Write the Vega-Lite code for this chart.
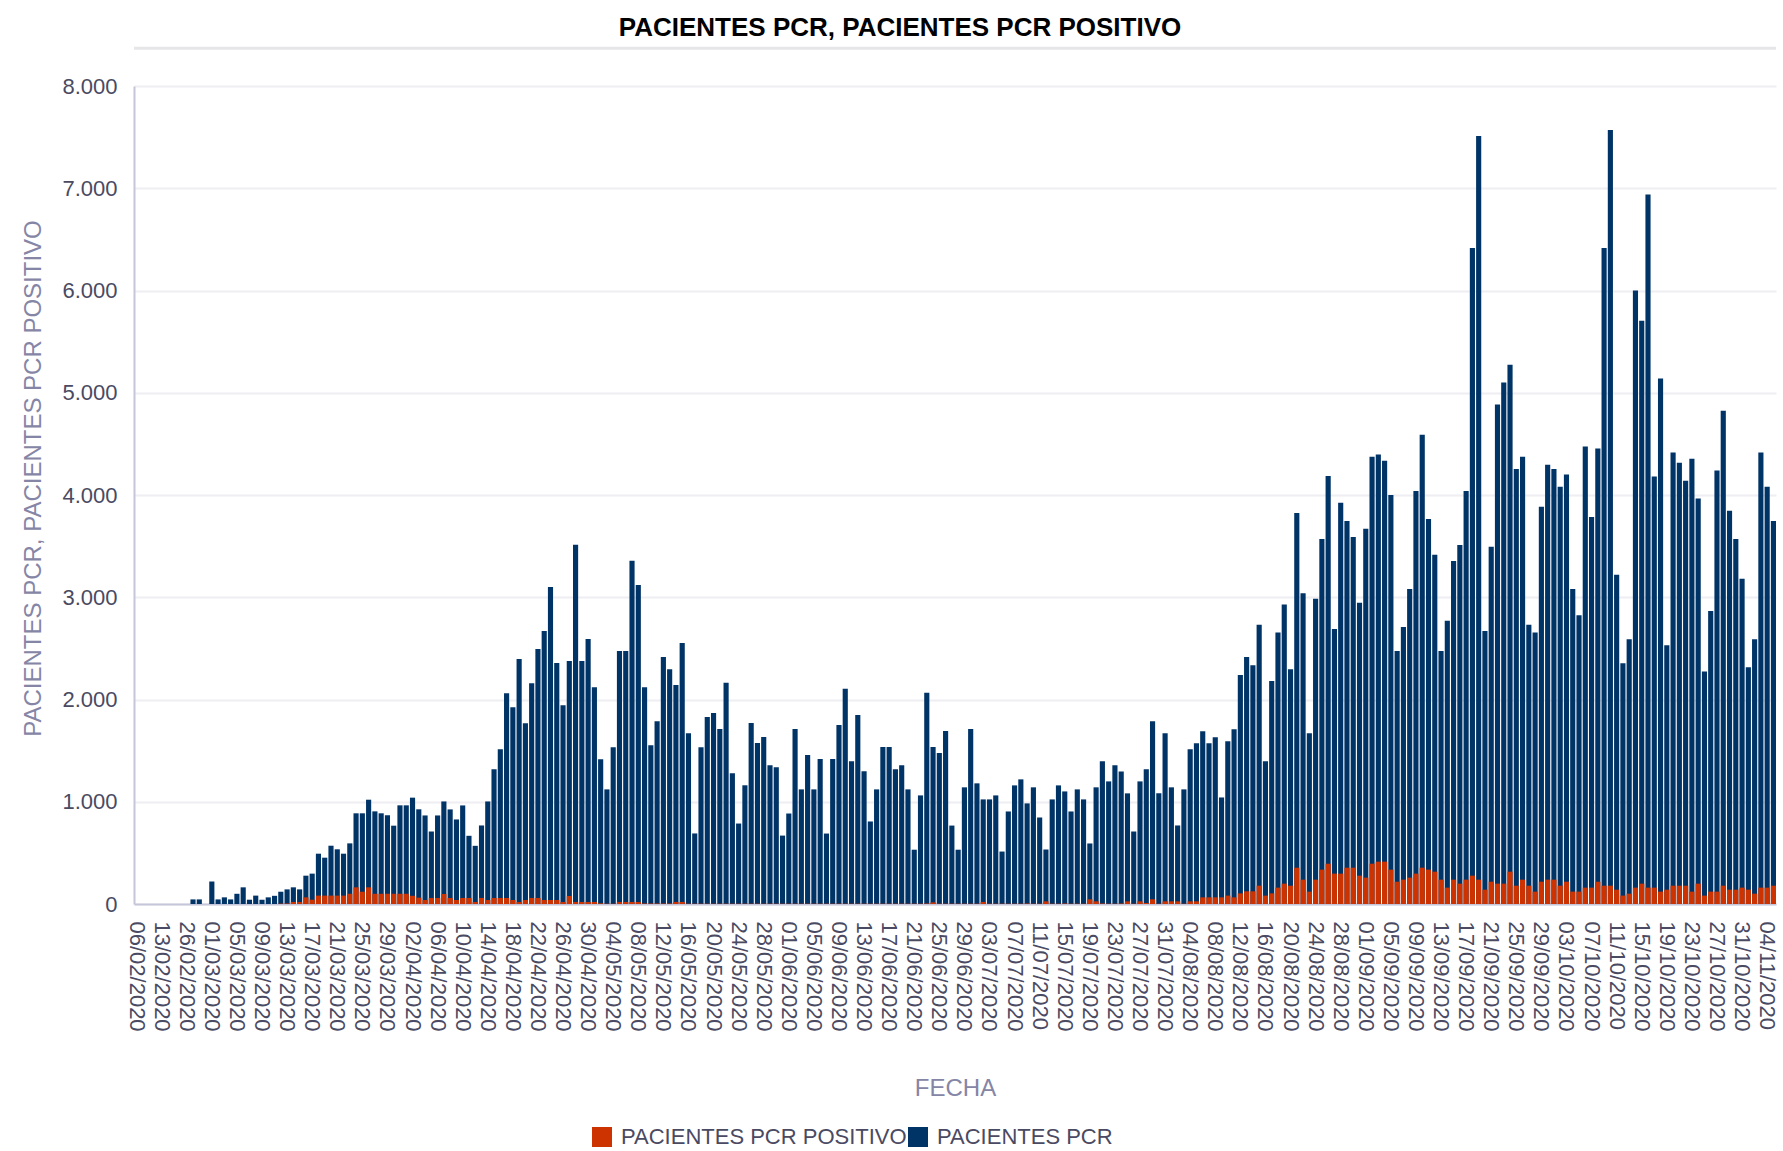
{
  "$schema": "https://vega.github.io/schema/vega-lite/v6.json",
  "width": 1642,
  "height": 818,
  "autosize": {"type": "none"},
  "padding": {"left": 134, "top": 86, "right": 7, "bottom": 247},
  "background": "white",
  "title": {
    "text": "PACIENTES PCR, PACIENTES PCR POSITIVO",
    "font": "Liberation Sans",
    "fontSize": 26,
    "fontWeight": "bold",
    "color": "#000000",
    "anchor": "middle",
    "baseline": "alphabetic",
    "offset": 12,
    "dy": 27,
    "dx": -55
  },
  "data": {
    "values": [
      {"fecha": "06/02/2020", "pcr": 0, "positivo": 0},
      {"fecha": "07/02/2020", "pcr": 0, "positivo": 0},
      {"fecha": "10/02/2020", "pcr": 0, "positivo": 0},
      {"fecha": "11/02/2020", "pcr": 0, "positivo": 0},
      {"fecha": "13/02/2020", "pcr": 0, "positivo": 0},
      {"fecha": "14/02/2020", "pcr": 0, "positivo": 0},
      {"fecha": "18/02/2020", "pcr": 0, "positivo": 0},
      {"fecha": "24/02/2020", "pcr": 0, "positivo": 0},
      {"fecha": "26/02/2020", "pcr": 0, "positivo": 0},
      {"fecha": "27/02/2020", "pcr": 45, "positivo": 0},
      {"fecha": "28/02/2020", "pcr": 45, "positivo": 0},
      {"fecha": "29/02/2020", "pcr": 0, "positivo": 0},
      {"fecha": "01/03/2020", "pcr": 220, "positivo": 0},
      {"fecha": "02/03/2020", "pcr": 45, "positivo": 0},
      {"fecha": "03/03/2020", "pcr": 65, "positivo": 0},
      {"fecha": "04/03/2020", "pcr": 45, "positivo": 0},
      {"fecha": "05/03/2020", "pcr": 100, "positivo": 0},
      {"fecha": "06/03/2020", "pcr": 163, "positivo": 0},
      {"fecha": "07/03/2020", "pcr": 42, "positivo": 0},
      {"fecha": "08/03/2020", "pcr": 82, "positivo": 0},
      {"fecha": "09/03/2020", "pcr": 42, "positivo": 0},
      {"fecha": "10/03/2020", "pcr": 65, "positivo": 0},
      {"fecha": "11/03/2020", "pcr": 80, "positivo": 0},
      {"fecha": "12/03/2020", "pcr": 120, "positivo": 4},
      {"fecha": "13/03/2020", "pcr": 143, "positivo": 5},
      {"fecha": "14/03/2020", "pcr": 163, "positivo": 20},
      {"fecha": "15/03/2020", "pcr": 143, "positivo": 20},
      {"fecha": "16/03/2020", "pcr": 277, "positivo": 65},
      {"fecha": "17/03/2020", "pcr": 297, "positivo": 42},
      {"fecha": "18/03/2020", "pcr": 492, "positivo": 82},
      {"fecha": "19/03/2020", "pcr": 453, "positivo": 82},
      {"fecha": "20/03/2020", "pcr": 570, "positivo": 82},
      {"fecha": "21/03/2020", "pcr": 535, "positivo": 82},
      {"fecha": "22/03/2020", "pcr": 492, "positivo": 82},
      {"fecha": "23/03/2020", "pcr": 593, "positivo": 100},
      {"fecha": "24/03/2020", "pcr": 887, "positivo": 163},
      {"fecha": "25/03/2020", "pcr": 887, "positivo": 120},
      {"fecha": "26/03/2020", "pcr": 1020, "positivo": 163},
      {"fecha": "27/03/2020", "pcr": 906, "positivo": 100},
      {"fecha": "28/03/2020", "pcr": 887, "positivo": 100},
      {"fecha": "29/03/2020", "pcr": 867, "positivo": 100},
      {"fecha": "30/03/2020", "pcr": 766, "positivo": 100},
      {"fecha": "31/03/2020", "pcr": 965, "positivo": 100},
      {"fecha": "01/04/2020", "pcr": 965, "positivo": 100},
      {"fecha": "02/04/2020", "pcr": 1040, "positivo": 80},
      {"fecha": "03/04/2020", "pcr": 926, "positivo": 62},
      {"fecha": "04/04/2020", "pcr": 866, "positivo": 39},
      {"fecha": "05/04/2020", "pcr": 709, "positivo": 59},
      {"fecha": "06/04/2020", "pcr": 866, "positivo": 59},
      {"fecha": "07/04/2020", "pcr": 1003, "positivo": 98},
      {"fecha": "08/04/2020", "pcr": 925, "positivo": 59},
      {"fecha": "09/04/2020", "pcr": 827, "positivo": 39},
      {"fecha": "10/04/2020", "pcr": 964, "positivo": 59},
      {"fecha": "11/04/2020", "pcr": 667, "positivo": 59},
      {"fecha": "12/04/2020", "pcr": 569, "positivo": 20},
      {"fecha": "13/04/2020", "pcr": 768, "positivo": 59},
      {"fecha": "14/04/2020", "pcr": 1003, "positivo": 39},
      {"fecha": "15/04/2020", "pcr": 1317, "positivo": 59},
      {"fecha": "16/04/2020", "pcr": 1513, "positivo": 59},
      {"fecha": "17/04/2020", "pcr": 2062, "positivo": 59},
      {"fecha": "18/04/2020", "pcr": 1925, "positivo": 39},
      {"fecha": "19/04/2020", "pcr": 2395, "positivo": 20},
      {"fecha": "20/04/2020", "pcr": 1768, "positivo": 39},
      {"fecha": "21/04/2020", "pcr": 2160, "positivo": 59},
      {"fecha": "22/04/2020", "pcr": 2493, "positivo": 59},
      {"fecha": "23/04/2020", "pcr": 2670, "positivo": 39},
      {"fecha": "24/04/2020", "pcr": 3101, "positivo": 39},
      {"fecha": "25/04/2020", "pcr": 2356, "positivo": 39},
      {"fecha": "26/04/2020", "pcr": 1944, "positivo": 20},
      {"fecha": "27/04/2020", "pcr": 2376, "positivo": 78},
      {"fecha": "28/04/2020", "pcr": 3513, "positivo": 20},
      {"fecha": "29/04/2020", "pcr": 2376, "positivo": 20},
      {"fecha": "30/04/2020", "pcr": 2592, "positivo": 20},
      {"fecha": "01/05/2020", "pcr": 2121, "positivo": 20},
      {"fecha": "02/05/2020", "pcr": 1415, "positivo": 7},
      {"fecha": "03/05/2020", "pcr": 1121, "positivo": 3},
      {"fecha": "04/05/2020", "pcr": 1533, "positivo": 3},
      {"fecha": "05/05/2020", "pcr": 2474, "positivo": 20},
      {"fecha": "06/05/2020", "pcr": 2474, "positivo": 20},
      {"fecha": "07/05/2020", "pcr": 3356, "positivo": 20},
      {"fecha": "08/05/2020", "pcr": 3121, "positivo": 20},
      {"fecha": "09/05/2020", "pcr": 2121, "positivo": 5},
      {"fecha": "10/05/2020", "pcr": 1552, "positivo": 5},
      {"fecha": "11/05/2020", "pcr": 1788, "positivo": 5},
      {"fecha": "12/05/2020", "pcr": 2415, "positivo": 5},
      {"fecha": "13/05/2020", "pcr": 2297, "positivo": 5},
      {"fecha": "14/05/2020", "pcr": 2141, "positivo": 20},
      {"fecha": "15/05/2020", "pcr": 2552, "positivo": 20},
      {"fecha": "16/05/2020", "pcr": 1670, "positivo": 3},
      {"fecha": "17/05/2020", "pcr": 690, "positivo": 3},
      {"fecha": "18/05/2020", "pcr": 1533, "positivo": 3},
      {"fecha": "19/05/2020", "pcr": 1830, "positivo": 3},
      {"fecha": "20/05/2020", "pcr": 1869, "positivo": 3},
      {"fecha": "21/05/2020", "pcr": 1712, "positivo": 3},
      {"fecha": "22/05/2020", "pcr": 2164, "positivo": 3},
      {"fecha": "23/05/2020", "pcr": 1279, "positivo": 3},
      {"fecha": "24/05/2020", "pcr": 787, "positivo": 3},
      {"fecha": "25/05/2020", "pcr": 1161, "positivo": 3},
      {"fecha": "26/05/2020", "pcr": 1771, "positivo": 3},
      {"fecha": "27/05/2020", "pcr": 1574, "positivo": 3},
      {"fecha": "28/05/2020", "pcr": 1633, "positivo": 3},
      {"fecha": "29/05/2020", "pcr": 1358, "positivo": 3},
      {"fecha": "30/05/2020", "pcr": 1338, "positivo": 3},
      {"fecha": "31/05/2020", "pcr": 669, "positivo": 3},
      {"fecha": "01/06/2020", "pcr": 885, "positivo": 3},
      {"fecha": "02/06/2020", "pcr": 1712, "positivo": 3},
      {"fecha": "03/06/2020", "pcr": 1121, "positivo": 3},
      {"fecha": "04/06/2020", "pcr": 1456, "positivo": 3},
      {"fecha": "05/06/2020", "pcr": 1121, "positivo": 3},
      {"fecha": "06/06/2020", "pcr": 1417, "positivo": 3},
      {"fecha": "07/06/2020", "pcr": 689, "positivo": 3},
      {"fecha": "08/06/2020", "pcr": 1417, "positivo": 3},
      {"fecha": "09/06/2020", "pcr": 1751, "positivo": 3},
      {"fecha": "10/06/2020", "pcr": 2105, "positivo": 3},
      {"fecha": "11/06/2020", "pcr": 1397, "positivo": 3},
      {"fecha": "12/06/2020", "pcr": 1849, "positivo": 3},
      {"fecha": "13/06/2020", "pcr": 1298, "positivo": 3},
      {"fecha": "14/06/2020", "pcr": 807, "positivo": 3},
      {"fecha": "15/06/2020", "pcr": 1121, "positivo": 3},
      {"fecha": "16/06/2020", "pcr": 1535, "positivo": 3},
      {"fecha": "17/06/2020", "pcr": 1535, "positivo": 3},
      {"fecha": "18/06/2020", "pcr": 1318, "positivo": 3},
      {"fecha": "19/06/2020", "pcr": 1358, "positivo": 3},
      {"fecha": "20/06/2020", "pcr": 1121, "positivo": 3},
      {"fecha": "21/06/2020", "pcr": 531, "positivo": 3},
      {"fecha": "22/06/2020", "pcr": 1062, "positivo": 3},
      {"fecha": "23/06/2020", "pcr": 2066, "positivo": 5},
      {"fecha": "24/06/2020", "pcr": 1535, "positivo": 16},
      {"fecha": "25/06/2020", "pcr": 1476, "positivo": 3},
      {"fecha": "26/06/2020", "pcr": 1692, "positivo": 3},
      {"fecha": "27/06/2020", "pcr": 767, "positivo": 3},
      {"fecha": "28/06/2020", "pcr": 531, "positivo": 3},
      {"fecha": "29/06/2020", "pcr": 1141, "positivo": 3},
      {"fecha": "30/06/2020", "pcr": 1712, "positivo": 3},
      {"fecha": "01/07/2020", "pcr": 1180, "positivo": 3},
      {"fecha": "02/07/2020", "pcr": 1023, "positivo": 20},
      {"fecha": "03/07/2020", "pcr": 1023, "positivo": 3},
      {"fecha": "04/07/2020", "pcr": 1062, "positivo": 3},
      {"fecha": "05/07/2020", "pcr": 513, "positivo": 3},
      {"fecha": "06/07/2020", "pcr": 905, "positivo": 3},
      {"fecha": "07/07/2020", "pcr": 1160, "positivo": 3},
      {"fecha": "08/07/2020", "pcr": 1219, "positivo": 3},
      {"fecha": "09/07/2020", "pcr": 984, "positivo": 5},
      {"fecha": "10/07/2020", "pcr": 1141, "positivo": 3},
      {"fecha": "11/07/2020", "pcr": 846, "positivo": 3},
      {"fecha": "12/07/2020", "pcr": 533, "positivo": 26},
      {"fecha": "13/07/2020", "pcr": 1023, "positivo": 3},
      {"fecha": "14/07/2020", "pcr": 1160, "positivo": 3},
      {"fecha": "15/07/2020", "pcr": 1101, "positivo": 5},
      {"fecha": "16/07/2020", "pcr": 905, "positivo": 3},
      {"fecha": "17/07/2020", "pcr": 1121, "positivo": 3},
      {"fecha": "18/07/2020", "pcr": 1023, "positivo": 3},
      {"fecha": "19/07/2020", "pcr": 592, "positivo": 46},
      {"fecha": "20/07/2020", "pcr": 1141, "positivo": 26},
      {"fecha": "21/07/2020", "pcr": 1395, "positivo": 5},
      {"fecha": "22/07/2020", "pcr": 1199, "positivo": 3},
      {"fecha": "23/07/2020", "pcr": 1356, "positivo": 3},
      {"fecha": "24/07/2020", "pcr": 1297, "positivo": 5},
      {"fecha": "25/07/2020", "pcr": 1082, "positivo": 26},
      {"fecha": "26/07/2020", "pcr": 709, "positivo": 3},
      {"fecha": "27/07/2020", "pcr": 1199, "positivo": 26},
      {"fecha": "28/07/2020", "pcr": 1317, "positivo": 10},
      {"fecha": "29/07/2020", "pcr": 1788, "positivo": 46},
      {"fecha": "30/07/2020", "pcr": 1082, "positivo": 3},
      {"fecha": "31/07/2020", "pcr": 1670, "positivo": 26},
      {"fecha": "01/08/2020", "pcr": 1141, "positivo": 26},
      {"fecha": "02/08/2020", "pcr": 768, "positivo": 26},
      {"fecha": "03/08/2020", "pcr": 1121, "positivo": 3},
      {"fecha": "04/08/2020", "pcr": 1513, "positivo": 26},
      {"fecha": "05/08/2020", "pcr": 1572, "positivo": 26},
      {"fecha": "06/08/2020", "pcr": 1690, "positivo": 65},
      {"fecha": "07/08/2020", "pcr": 1572, "positivo": 65},
      {"fecha": "08/08/2020", "pcr": 1631, "positivo": 65},
      {"fecha": "09/08/2020", "pcr": 1042, "positivo": 65},
      {"fecha": "10/08/2020", "pcr": 1592, "positivo": 82},
      {"fecha": "11/08/2020", "pcr": 1709, "positivo": 65},
      {"fecha": "12/08/2020", "pcr": 2239, "positivo": 104},
      {"fecha": "13/08/2020", "pcr": 2415, "positivo": 124},
      {"fecha": "14/08/2020", "pcr": 2336, "positivo": 124},
      {"fecha": "15/08/2020", "pcr": 2730, "positivo": 179},
      {"fecha": "16/08/2020", "pcr": 1395, "positivo": 82},
      {"fecha": "17/08/2020", "pcr": 2180, "positivo": 104},
      {"fecha": "18/08/2020", "pcr": 2655, "positivo": 160},
      {"fecha": "19/08/2020", "pcr": 2930, "positivo": 199},
      {"fecha": "20/08/2020", "pcr": 2295, "positivo": 179},
      {"fecha": "21/08/2020", "pcr": 3825, "positivo": 355},
      {"fecha": "22/08/2020", "pcr": 3040, "positivo": 238},
      {"fecha": "23/08/2020", "pcr": 1670, "positivo": 121},
      {"fecha": "24/08/2020", "pcr": 2985, "positivo": 238},
      {"fecha": "25/08/2020", "pcr": 3570, "positivo": 336},
      {"fecha": "26/08/2020", "pcr": 4185, "positivo": 394},
      {"fecha": "27/08/2020", "pcr": 2690, "positivo": 297},
      {"fecha": "28/08/2020", "pcr": 3925, "positivo": 297},
      {"fecha": "29/08/2020", "pcr": 3745, "positivo": 355},
      {"fecha": "30/08/2020", "pcr": 3590, "positivo": 355},
      {"fecha": "31/08/2020", "pcr": 2945, "positivo": 277},
      {"fecha": "01/09/2020", "pcr": 3670, "positivo": 258},
      {"fecha": "02/09/2020", "pcr": 4375, "positivo": 394},
      {"fecha": "03/09/2020", "pcr": 4395, "positivo": 414},
      {"fecha": "04/09/2020", "pcr": 4335, "positivo": 414},
      {"fecha": "05/09/2020", "pcr": 4000, "positivo": 336},
      {"fecha": "06/09/2020", "pcr": 2475, "positivo": 218},
      {"fecha": "07/09/2020", "pcr": 2710, "positivo": 238},
      {"fecha": "08/09/2020", "pcr": 3080, "positivo": 258},
      {"fecha": "09/09/2020", "pcr": 4040, "positivo": 297},
      {"fecha": "10/09/2020", "pcr": 4590, "positivo": 355},
      {"fecha": "11/09/2020", "pcr": 3765, "positivo": 336},
      {"fecha": "12/09/2020", "pcr": 3415, "positivo": 316},
      {"fecha": "13/09/2020", "pcr": 2475, "positivo": 238},
      {"fecha": "14/09/2020", "pcr": 2770, "positivo": 160},
      {"fecha": "15/09/2020", "pcr": 3355, "positivo": 238},
      {"fecha": "16/09/2020", "pcr": 3510, "positivo": 199},
      {"fecha": "17/09/2020", "pcr": 4040, "positivo": 238},
      {"fecha": "18/09/2020", "pcr": 6415, "positivo": 277},
      {"fecha": "19/09/2020", "pcr": 7510, "positivo": 238},
      {"fecha": "20/09/2020", "pcr": 2670, "positivo": 140},
      {"fecha": "21/09/2020", "pcr": 3495, "positivo": 218},
      {"fecha": "22/09/2020", "pcr": 4885, "positivo": 199},
      {"fecha": "23/09/2020", "pcr": 5100, "positivo": 199},
      {"fecha": "24/09/2020", "pcr": 5275, "positivo": 316},
      {"fecha": "25/09/2020", "pcr": 4255, "positivo": 179},
      {"fecha": "26/09/2020", "pcr": 4375, "positivo": 238},
      {"fecha": "27/09/2020", "pcr": 2730, "positivo": 179},
      {"fecha": "28/09/2020", "pcr": 2655, "positivo": 121},
      {"fecha": "29/09/2020", "pcr": 3885, "positivo": 218},
      {"fecha": "30/09/2020", "pcr": 4295, "positivo": 238},
      {"fecha": "01/10/2020", "pcr": 4255, "positivo": 238},
      {"fecha": "02/10/2020", "pcr": 4080, "positivo": 179},
      {"fecha": "03/10/2020", "pcr": 4200, "positivo": 218},
      {"fecha": "04/10/2020", "pcr": 3080, "positivo": 121},
      {"fecha": "05/10/2020", "pcr": 2825, "positivo": 121},
      {"fecha": "06/10/2020", "pcr": 4475, "positivo": 160},
      {"fecha": "07/10/2020", "pcr": 3785, "positivo": 160},
      {"fecha": "08/10/2020", "pcr": 4455, "positivo": 218},
      {"fecha": "09/10/2020", "pcr": 6415, "positivo": 179},
      {"fecha": "10/10/2020", "pcr": 7570, "positivo": 179},
      {"fecha": "11/10/2020", "pcr": 3220, "positivo": 140},
      {"fecha": "12/10/2020", "pcr": 2355, "positivo": 82},
      {"fecha": "13/10/2020", "pcr": 2590, "positivo": 101},
      {"fecha": "14/10/2020", "pcr": 6000, "positivo": 160},
      {"fecha": "15/10/2020", "pcr": 5705, "positivo": 199},
      {"fecha": "16/10/2020", "pcr": 6940, "positivo": 160},
      {"fecha": "17/10/2020", "pcr": 4180, "positivo": 160},
      {"fecha": "18/10/2020", "pcr": 5140, "positivo": 121},
      {"fecha": "19/10/2020", "pcr": 2530, "positivo": 140},
      {"fecha": "20/10/2020", "pcr": 4415, "positivo": 179},
      {"fecha": "21/10/2020", "pcr": 4315, "positivo": 179},
      {"fecha": "22/10/2020", "pcr": 4140, "positivo": 179},
      {"fecha": "23/10/2020", "pcr": 4355, "positivo": 121},
      {"fecha": "24/10/2020", "pcr": 3965, "positivo": 199},
      {"fecha": "25/10/2020", "pcr": 2275, "positivo": 82},
      {"fecha": "26/10/2020", "pcr": 2865, "positivo": 121},
      {"fecha": "27/10/2020", "pcr": 4240, "positivo": 121},
      {"fecha": "28/10/2020", "pcr": 4825, "positivo": 179},
      {"fecha": "29/10/2020", "pcr": 3845, "positivo": 140},
      {"fecha": "30/10/2020", "pcr": 3570, "positivo": 140},
      {"fecha": "31/10/2020", "pcr": 3180, "positivo": 160},
      {"fecha": "01/11/2020", "pcr": 2315, "positivo": 140},
      {"fecha": "02/11/2020", "pcr": 2590, "positivo": 101},
      {"fecha": "03/11/2020", "pcr": 4415, "positivo": 160},
      {"fecha": "04/11/2020", "pcr": 4080, "positivo": 160},
      {"fecha": "05/11/2020", "pcr": 3745, "positivo": 179}
    ]
  },
  "layer": [
    {
      "mark": {"type": "bar"},
      "encoding": {
        "x": {
          "field": "fecha",
          "type": "ordinal",
          "sort": null,
          "title": "FECHA",
          "scale": {"paddingInner": 0.18, "paddingOuter": 0},
          "axis": {
            "labelAngle": 90,
            "labelPadding": 17,
            "titlePadding": 45,
            "grid": false,
            "values": ["06/02/2020","13/02/2020","26/02/2020","01/03/2020","05/03/2020","09/03/2020","13/03/2020","17/03/2020","21/03/2020","25/03/2020","29/03/2020","02/04/2020","06/04/2020","10/04/2020","14/04/2020","18/04/2020","22/04/2020","26/04/2020","30/04/2020","04/05/2020","08/05/2020","12/05/2020","16/05/2020","20/05/2020","24/05/2020","28/05/2020","01/06/2020","05/06/2020","09/06/2020","13/06/2020","17/06/2020","21/06/2020","25/06/2020","29/06/2020","03/07/2020","07/07/2020","11/07/2020","15/07/2020","19/07/2020","23/07/2020","27/07/2020","31/07/2020","04/08/2020","08/08/2020","12/08/2020","16/08/2020","20/08/2020","24/08/2020","28/08/2020","01/09/2020","05/09/2020","09/09/2020","13/09/2020","17/09/2020","21/09/2020","25/09/2020","29/09/2020","03/10/2020","07/10/2020","11/10/2020","15/10/2020","19/10/2020","23/10/2020","27/10/2020","31/10/2020","04/11/2020"]
          }
        },
        "y": {
          "field": "pcr",
          "type": "quantitative",
          "stack": null,
          "title": "PACIENTES PCR, PACIENTES PCR POSITIVO",
          "scale": {"domain": [0, 8000], "nice": false},
          "axis": {
            "values": [0, 1000, 2000, 3000, 4000, 5000, 6000, 7000, 8000],
            "labelExpr": "replace(format(datum.value, ','), ',', '.')",
            "labelPadding": 17,
            "titlePadding": 16,
            "titleY": 392,
            "grid": true
          }
        },
        "color": {
          "datum": "PACIENTES PCR",
          "scale": {
            "domain": ["PACIENTES PCR POSITIVO", "PACIENTES PCR"],
            "range": ["#cc3300", "#003366"]
          },
          "legend": {"title": null}
        }
      }
    },
    {
      "mark": {"type": "bar"},
      "encoding": {
        "x": {"field": "fecha", "type": "ordinal", "sort": null, "title": "FECHA"},
        "y": {"field": "positivo", "type": "quantitative", "stack": null, "title": "PACIENTES PCR, PACIENTES PCR POSITIVO"},
        "color": {"datum": "PACIENTES PCR POSITIVO"}
      }
    },
    {
      "data": {"values": [{"elemento": "separador"}]},
      "mark": {"type": "rule", "color": "#e6e6e9", "strokeWidth": 3},
      "encoding": {
        "y": {"datum": 8370, "type": "quantitative", "title": "PACIENTES PCR, PACIENTES PCR POSITIVO"}
      }
    }
  ],
  "config": {
    "font": "Liberation Sans",
    "view": {"stroke": null},
    "axis": {
      "labelFont": "Liberation Sans",
      "labelFontSize": 22,
      "labelColor": "#4a4a62",
      "titleFont": "Liberation Sans",
      "titleFontSize": 24,
      "titleFontWeight": "normal",
      "titleColor": "#8585a6",
      "domainColor": "#c6c6da",
      "domainWidth": 2,
      "gridColor": "#eeeef3",
      "gridWidth": 2,
      "ticks": false,
      "tickSize": 0,
      "labelOverlap": false
    },
    "legend": {
      "orient": "none",
      "legendX": 457,
      "legendY": 1040,
      "direction": "horizontal",
      "symbolType": "square",
      "symbolSize": 400,
      "symbolStrokeWidth": 0,
      "labelFont": "Liberation Sans",
      "labelFontSize": 22,
      "labelColor": "#4a4a62",
      "labelOffset": 8,
      "labelLimit": 0,
      "columnPadding": -23
    }
  }
}
